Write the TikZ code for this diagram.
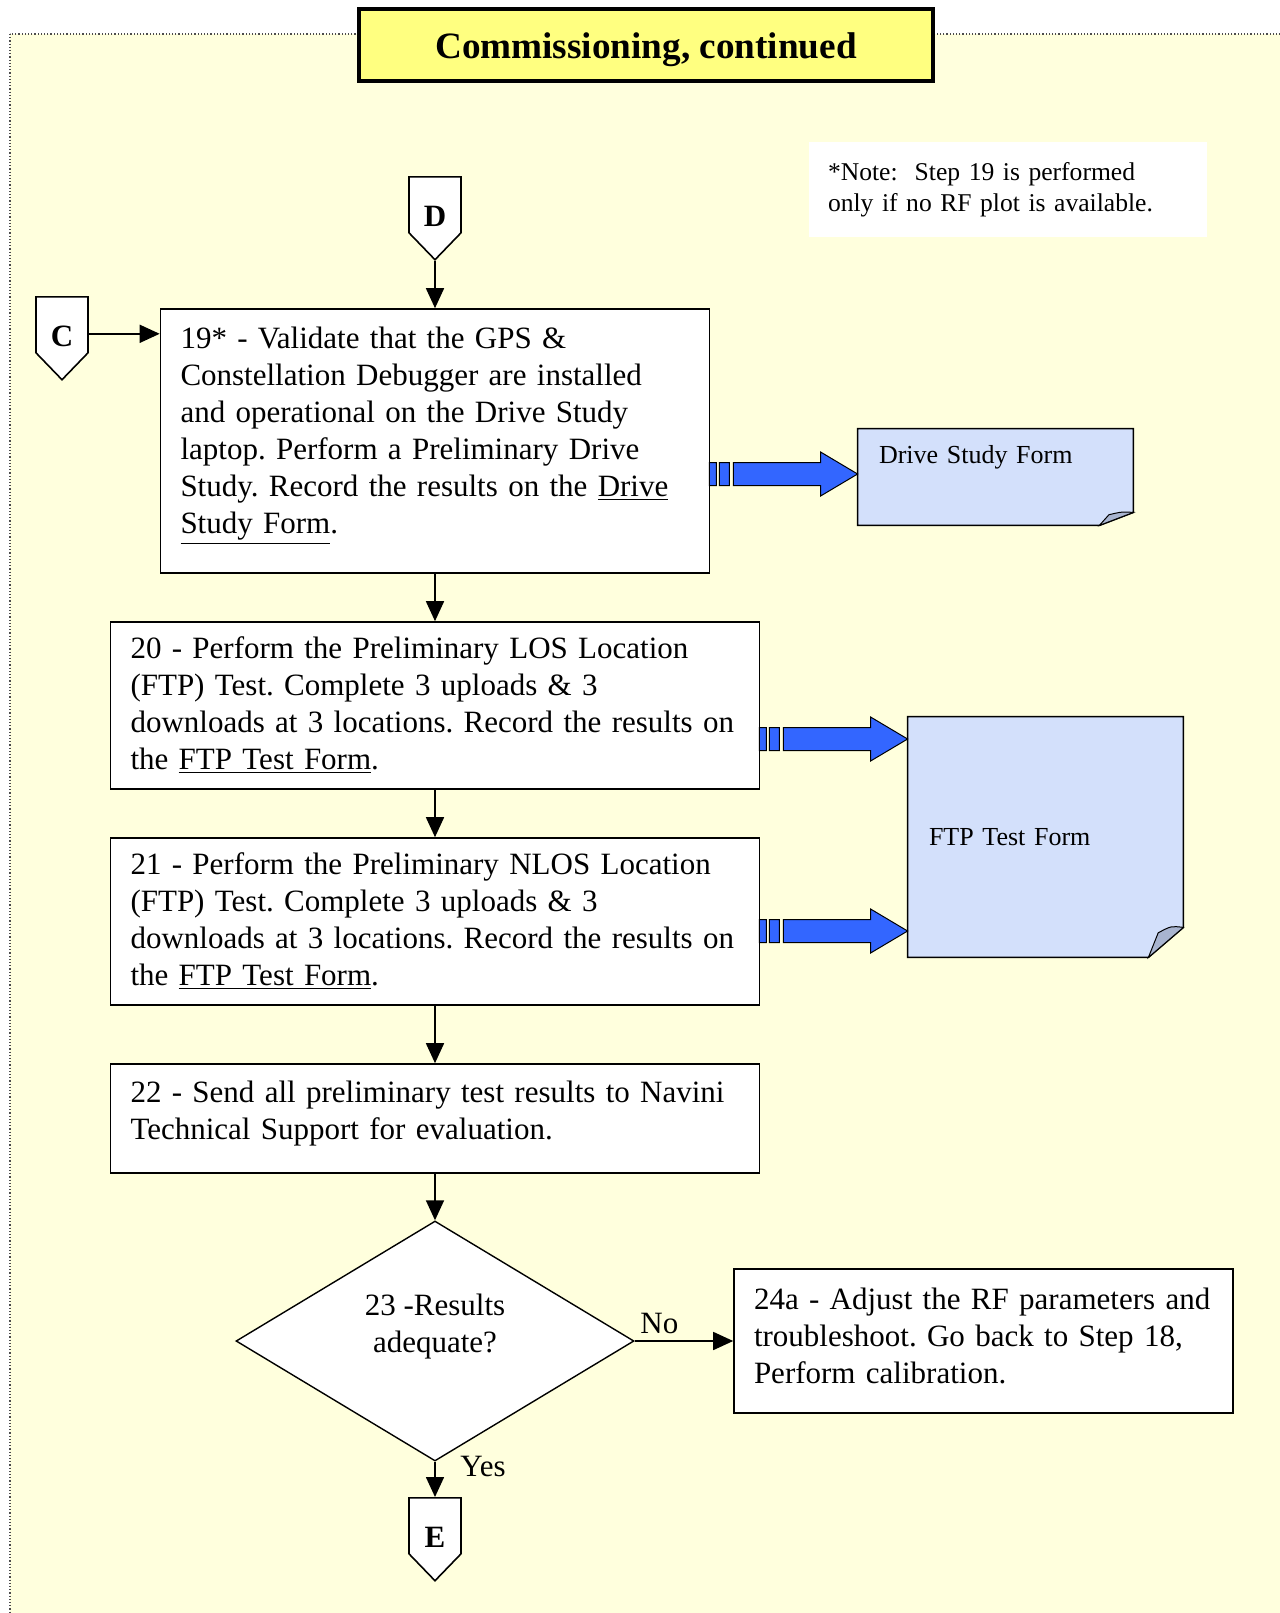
\documentclass[tikz,border=0pt]{standalone}
\usepackage{fontspec}
\setmainfont{Liberation Serif}
\frenchspacing
\usetikzlibrary{shapes.geometric, shapes.symbols, arrows.meta, calc, backgrounds}
\definecolor{pagebg}{RGB}{255, 255, 221}
\definecolor{titlebg}{RGB}{255, 255, 128}
\definecolor{formbg}{RGB}{211, 224, 251}
\definecolor{formcurl}{RGB}{168, 180, 207}
\definecolor{flowblue}{RGB}{51, 102, 255}
\newcommand{\stepfont}{\fontsize{15.5}{18.5}\selectfont}
\newcommand{\notefont}{\fontsize{12.8}{15.5}\selectfont}
\newcommand{\formfont}{\fontsize{13}{15.5}\selectfont}
\newcommand{\titlefont}{\fontsize{18.6}{22}\selectfont\bfseries}
\tikzset{
  stepbox/.style={draw, fill=white, line width=0.8pt, align=left, inner xsep=10pt, inner ysep=0pt, font=\stepfont},
  decbox/.style={draw, fill=white, shape=diamond, line width=0.7pt, inner sep=0pt, align=center, font=\stepfont, minimum width=199pt, minimum height=120pt},
  offpage/.style={draw, fill=white, shape=signal, signal to=south, signal pointer angle=88, line width=0.8pt, minimum width=26pt, minimum height=28pt, inner sep=0pt, anchor=north},
  formbox/.style={align=left, inner xsep=10.5pt, font=\formfont, minimum width=137.5pt, text width=116.5pt},
  flowarrow/.style={line width=0.8pt, -{Triangle[length=10pt,width=9pt]}},
  blockpart/.style={fill=flowblue, draw=black, line width=0.5pt},
}
% form sheet with a curled corner: node, curl width, curl height
\newcommand{\formoutline}[3]{%
  \filldraw[fill=formbg, line width=0.8pt] (#1.north west) -- (#1.north east) -- ($(#1.south east)+(0,#3)$) -- ($(#1.south east)+(-#2,0)$) -- (#1.south west) -- cycle;
  \filldraw[fill=formcurl, line width=0.5pt] ($(#1.south east)+(-#2,0)$) -- ($(#1.south east)+(-0.72*#2,0.82*#3)$) .. controls ($(#1.south east)+(-0.35*#2,1.05*#3)$) .. ($(#1.south east)+(0,#3)$) -- cycle;
}
% broad blue arrow: start, end, height (px)
\newcommand{\blockarrow}[3]{%
  \path[blockpart] let \p1=#1, \p2=#2, \p3=(0,#3) in
    (\x1-0.5pt,\y3-5.75pt) rectangle (\x1+3pt,\y3+5.75pt)
    (\x1+4.5pt,\y3-5.75pt) rectangle (\x1+9.5pt,\y3+5.75pt)
    (\x1+11.5pt,\y3+5.75pt) -- (\x2-18.5pt,\y3+5.75pt) -- (\x2-18.5pt,\y3+11pt) -- (\x2,\y3)
    -- (\x2-18.5pt,\y3-11pt) -- (\x2-18.5pt,\y3-5.75pt) -- (\x1+11.5pt,\y3-5.75pt) -- cycle;
}

\begin{document}
\begin{tikzpicture}[x=0.5pt, y=-0.5pt]
  \def\cx{435}

  \useasboundingbox (0,0) rectangle (1280,1613);
  \begin{scope}[on background layer]
    \fill[white] (0,0) rectangle (1280,1613);
    \draw[densely dotted, draw=black!70, fill=pagebg, line width=0.6pt] (10,34) rectangle (1300,1640);
  \end{scope}

  % Title and note
  \node[draw, fill=titlebg, line width=2pt, minimum width=287pt, minimum height=36pt, text height=17pt, text depth=4pt, font=\titlefont] (title) at (646,45) {Commissioning, continued};
  \node[fill=white, align=left, inner xsep=9.5pt, minimum width=199pt, minimum height=47.5pt, text width=180pt, font=\notefont] (note) at (1008,189.5)
    {*Note:\ \ Step 19 is performed\\ only if no RF plot is available.};

  % Off-page connectors
  \node[offpage, label={[font=\stepfont\bfseries, yshift=-6pt]center:D}] (D) at (\cx,176) {};
  \node[offpage, label={[font=\stepfont\bfseries, yshift=-6pt]center:C}] (C) at (62,296) {};
  \node[offpage, label={[font=\stepfont\bfseries, yshift=-6pt]center:E}] (E) at (\cx,1497) {};

  % Steps
  \node[stepbox, minimum width=274.5pt, minimum height=132pt, text width=254.5pt, text height=5.5pt] (s19) at (\cx,441)
    {19* - Validate that the GPS \&\\ Constellation Debugger are installed\\ and operational on the Drive Study\\ laptop. Perform a Preliminary Drive\\ Study. Record the results on the \underline{Drive}\\ \underline{Study Form}.};
  \node[stepbox, minimum width=324.5pt, minimum height=83.5pt, text width=304.5pt] (s20) at (\cx,705.5)
    {20 - Perform the Preliminary LOS Location\\ (FTP) Test. Complete 3 uploads \& 3\\ downloads at 3 locations. Record the results on\\ the \underline{FTP Test Form}.};
  \node[stepbox, minimum width=324.5pt, minimum height=83.5pt, text width=304.5pt] (s21) at (\cx,921.5)
    {21 - Perform the Preliminary NLOS Location\\ (FTP) Test. Complete 3 uploads \& 3\\ downloads at 3 locations. Record the results on\\ the \underline{FTP Test Form}.};
  \node[stepbox, minimum width=324.5pt, minimum height=54.5pt, text width=304.5pt, text height=5.5pt] (s22) at (\cx,1118.5)
    {22 - Send all preliminary test results to Navini\\ Technical Support for evaluation.};
  \node[decbox, text depth=17.8pt] (dec) at (\cx,1341) {23 -Results\\ adequate?};
  \node[stepbox, minimum width=249.5pt, minimum height=72pt, text width=229.5pt, text height=5.5pt] (s24a) at (983.5,1341)
    {24a - Adjust the RF parameters and\\ troubleshoot. Go back to Step 18,\\ Perform calibration.};

  % Forms
  \node[formbox, minimum height=48pt, text depth=22.8pt] (dsf) at (995.5,477) {Drive Study Form};
  \node[formbox, minimum height=120pt] (ftp) at (1045.5,837) {FTP Test Form};
  \begin{scope}[on background layer]
    \formoutline{dsf}{17pt}{6.5pt}
    \formoutline{ftp}{17.5pt}{15pt}
  \end{scope}

  % Flow
  \draw[flowarrow] (D.south) -- (s19.north);
  \draw[flowarrow] ([yshift=-4.5pt]C.east) -- ([yshift=-4.5pt]C.east -| s19.west);
  \draw[flowarrow] (s19.south) -- (s20.north);
  \draw[flowarrow] (s20.south) -- (s21.north);
  \draw[flowarrow] (s21.south) -- (s22.north);
  \draw[flowarrow] (s22.south) -- (dec.north);
  \draw[flowarrow] (dec.east) -- node[pos=0.25, above, font=\stepfont] {No} (s24a.west);
  \draw[flowarrow] (dec.south) -- node[pos=0.14, right=9pt, font=\stepfont] {Yes} (E.north);

  % Records
  \blockarrow{(s19.east)}{(dsf.west)}{474}
  \blockarrow{(s20.east)}{(ftp.west)}{739}
  \blockarrow{(s21.east)}{(ftp.west)}{931}
\end{tikzpicture}
\end{document}
